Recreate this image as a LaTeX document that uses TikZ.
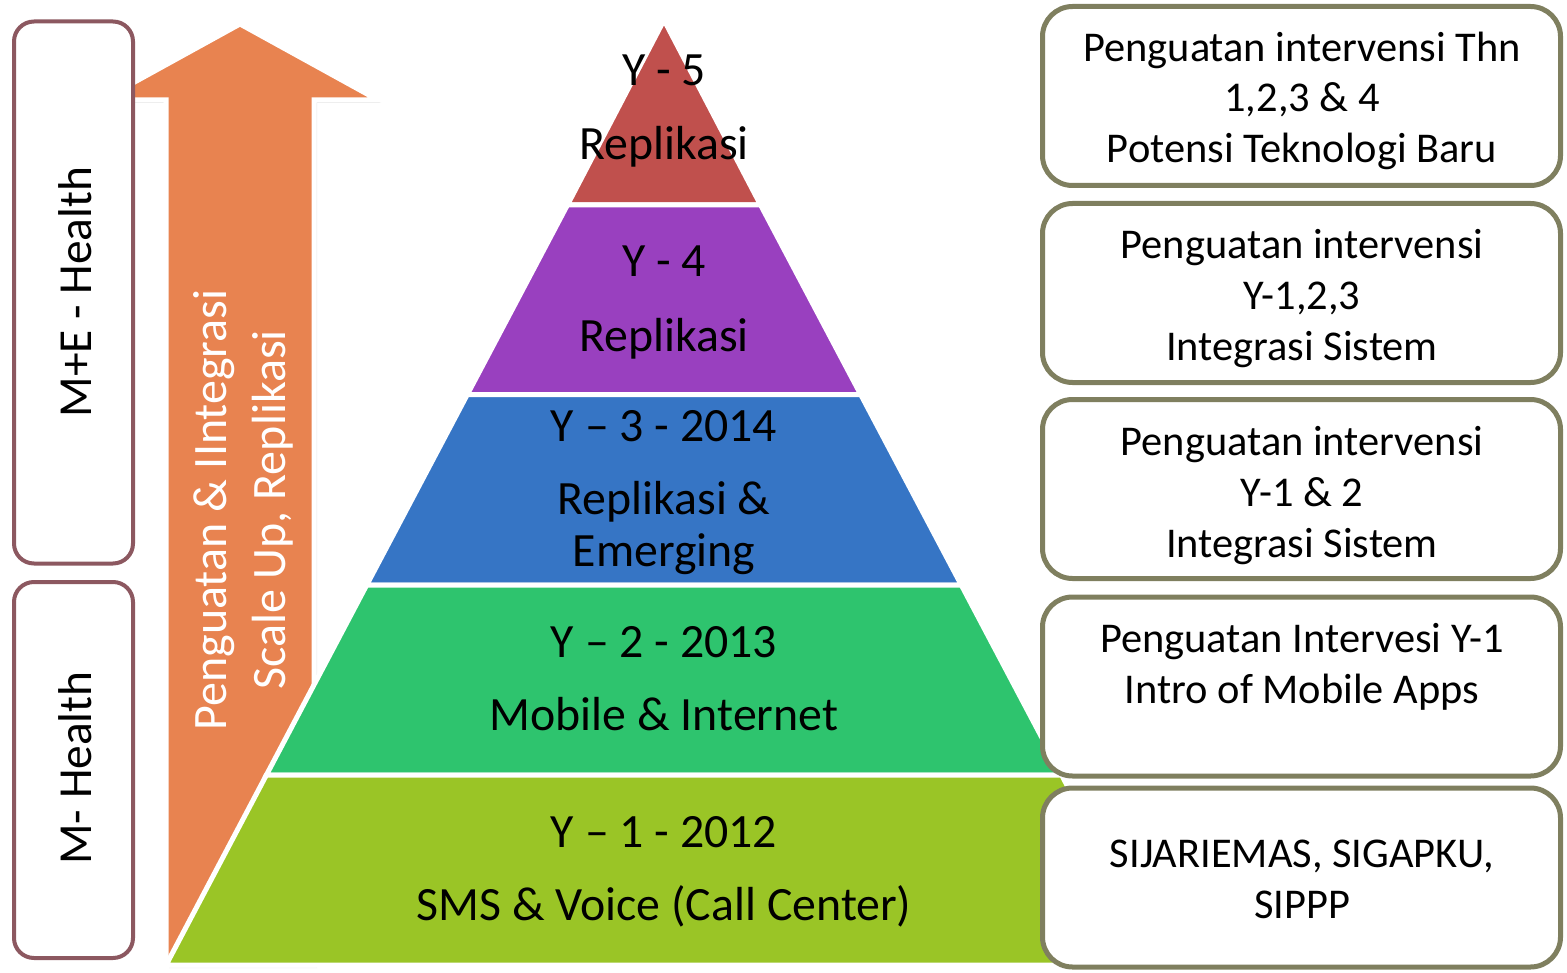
\documentclass[tikz,border=0pt]{standalone}
\usepackage{fontspec}
\setmainfont{Carlito}
\usetikzlibrary{shadows}
\definecolor{bandA}{RGB}{192,80,77}
\definecolor{bandB}{RGB}{153,64,191}
\definecolor{bandC}{RGB}{54,117,197}
\definecolor{bandD}{RGB}{46,196,110}
\definecolor{bandE}{RGB}{154,197,38}
\definecolor{arroworange}{RGB}{232,131,80}
\definecolor{leftframe}{RGB}{140,88,96}
\definecolor{rightframe}{RGB}{127,127,95}
\begin{document}
\begin{tikzpicture}[x=0.5pt,y=-0.5pt,
  band/.style={draw=white,line width=2.5pt,line join=miter},
  % multi-line nodes are placed by the baseline of their last line
  bigtext/.style={font=\fontsize{23.9pt}{26pt}\selectfont,inner sep=0pt,anchor=base,align=center},
  boxtext/.style={font=\fontsize{21.2pt}{25.5pt}\selectfont,inner sep=0pt,anchor=base,align=center},
  sidebox/.style={draw=leftframe,line width=2pt,fill=white,rounded corners=10pt,minimum width=59.5pt},
  notebox/.style={draw=rightframe,line width=2.5pt,fill=white,rounded corners=15pt,minimum width=259pt,minimum height=89.5pt},
  sidetext/.style={rotate=90,font=\fontsize{23.7pt}{26pt}\selectfont,inner sep=0pt},
  upstyle/.style={fill=arroworange,draw=white,line width=2.5pt,
    drop shadow={opacity=0.2,shadow xshift=1.5pt,shadow yshift=-1.5pt}}]
\useasboundingbox (0,0) rectangle (1567,973);

% growth arrow behind the pyramid
\draw[upstyle] (240,24) -- (378,100) -- (314,100) -- (314,965) -- (166,965) -- (166,100) -- (102,100) -- cycle;
\node[rotate=90,text=white,align=center,inner sep=0pt,
      font=\fontsize{24pt}{29.5pt}\selectfont] (uptext) at (243,510)
  {Penguatan \& IIntegrasi\\Scale Up, Replikasi};

% pyramid bands, apex at (664,22)
\draw[band,fill=bandA] (664,20) -- (760.6,205) -- (567.4,205) -- cycle;
\draw[band,fill=bandB] (567.4,205) -- (760.6,205) -- (860.7,394.5) -- (467.3,394.5) -- cycle;
\draw[band,fill=bandC] (467.3,394.5) -- (860.7,394.5) -- (961.3,585) -- (366.7,585) -- cycle;
\draw[band,fill=bandD] (366.7,585) -- (961.3,585) -- (1061.6,775) -- (266.4,775) -- cycle;
\draw[band,fill=bandE] (266.4,775) -- (1061.6,775) -- (1161.9,965) -- (166.1,965) -- cycle;

\node[bigtext] (l5a) at (664,86) {Y - 5};
\node[bigtext] (l5b) at (664,160) {Replikasi};
\node[bigtext] (l4a) at (664,277) {Y - 4};
\node[bigtext] (l4b) at (664,351) {Replikasi};
\node[bigtext] (l3a) at (664,441) {Y – 3 - 2014};
\node[bigtext] (l3b) at (664,566) {Replikasi \&\\Emerging};
\node[bigtext] (l2a) at (664,657) {Y – 2 - 2013};
\node[bigtext] (l2b) at (664,730) {Mobile \& Internet};
\node[bigtext] (l1a) at (664,847) {Y – 1 - 2012};
\node[bigtext] (l1b) at (664,920) {SMS \& Voice (Call Center)};

% phase boxes on the left
\node[sidebox,minimum height=271pt] (me) at (73.5,292.5) {};
\node[sidebox,minimum height=188pt] (mh) at (73.5,770) {};
\node[sidetext] (metext) at (75,292) {M+E - Health};
\node[sidetext] (mhtext) at (75,768) {M- Health};

% notes on the right
\node[notebox] (n5) at (1301.5,96) {};
\node[notebox] (n4) at (1301.5,293) {};
\node[notebox] (n3) at (1301.5,489) {};
\node[notebox] (n2) at (1301.5,686.5) {};
\node[notebox] (n1) at (1301.5,877.5) {};

\node[boxtext] (t5) at (1302,163) {Penguatan intervensi Thn\\1,2,3 \& 4\\Potensi Teknologi Baru};
\node[boxtext] (t4) at (1302,360) {Penguatan intervensi\\Y-1,2,3\\Integrasi Sistem};
\node[boxtext] (t3) at (1302,557) {Penguatan intervensi\\Y-1 \& 2\\Integrasi Sistem};
\node[boxtext] (t2) at (1302,703) {Penguatan Intervesi Y-1\\Intro of Mobile Apps};
\node[boxtext] (t1) at (1302,918) {SIJARIEMAS, SIGAPKU,\\SIPPP};
\end{tikzpicture}
\end{document}
